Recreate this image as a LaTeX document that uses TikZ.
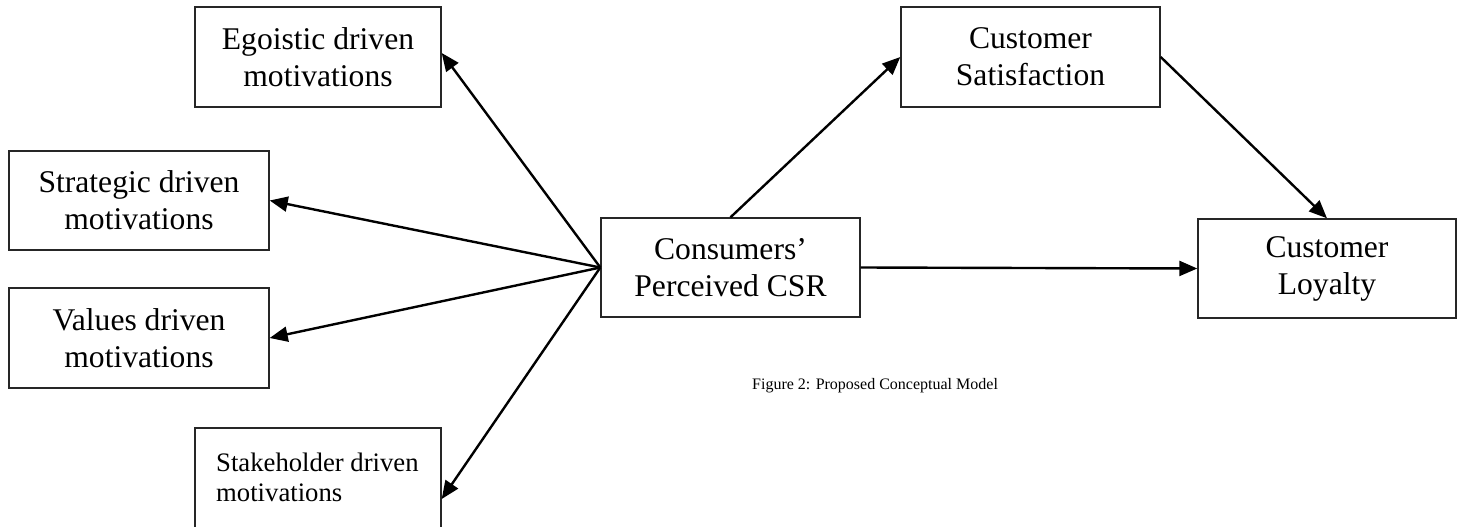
\documentclass[tikz,border=0pt]{standalone}
\usepackage{fontspec}
\setmainfont{Liberation Serif}
\usetikzlibrary{arrows.meta}
\begin{document}
\begin{tikzpicture}[x=1pt,y=-1pt,
  box/.style={draw=black!85,line width=1.4pt,inner sep=0pt,align=center,
    font=\fontsize{31.6}{37}\selectfont},
  conn/.style={line width=2.4pt,-{Triangle[length=18pt,width=15pt]}},
  captext/.style={font=\fontsize{16}{19}\selectfont,anchor=base west,inner sep=0pt}]
\useasboundingbox (0,0) rectangle (1460,527);
\node[box,minimum width=246pt,minimum height=100pt] (ego) at (318,57) {Egoistic driven\\motivations};
\node[box,minimum width=260pt,minimum height=99pt] (strat) at (139,200.5) {Strategic driven\\motivations};
\node[box,minimum width=260pt,minimum height=100pt] (val) at (139,338) {Values driven\\motivations};
\node[box,minimum width=246pt,minimum height=120pt] (stake) at (318,488) {};
\node[anchor=north west,inner sep=0pt,align=left,font=\fontsize{26.7}{30}\selectfont] (staketext) at (216,453) {Stakeholder driven\\motivations};
\node[box,minimum width=259pt,minimum height=99pt] (csr) at (730.5,267.5) {Consumers’\\Perceived CSR};
\node[box,minimum width=259pt,minimum height=100pt] (sat) at (1030.5,57) {Customer\\Satisfaction};
\node[box,minimum width=258pt,minimum height=99pt] (loy) at (1327,268.5) {Customer\\Loyalty};
\coordinate (stakeend) at ([yshift=-11pt]stake.east);
\draw[conn] (csr.west) -- ([yshift=4pt]ego.east);
\draw[conn] (csr.west) -- (strat.east);
\draw[conn] (csr.west) -- (val.east);
\draw[conn] (csr.west) -- (stakeend);
\draw[conn] (csr.north) -- (sat.west);
\draw[conn] (sat.east) -- (loy.north);
\draw[conn] (csr.east) -- (loy.west);
\node[captext] (caption) at (752,389) {Figure 2: Proposed Conceptual Model};
\end{tikzpicture}
\end{document}
